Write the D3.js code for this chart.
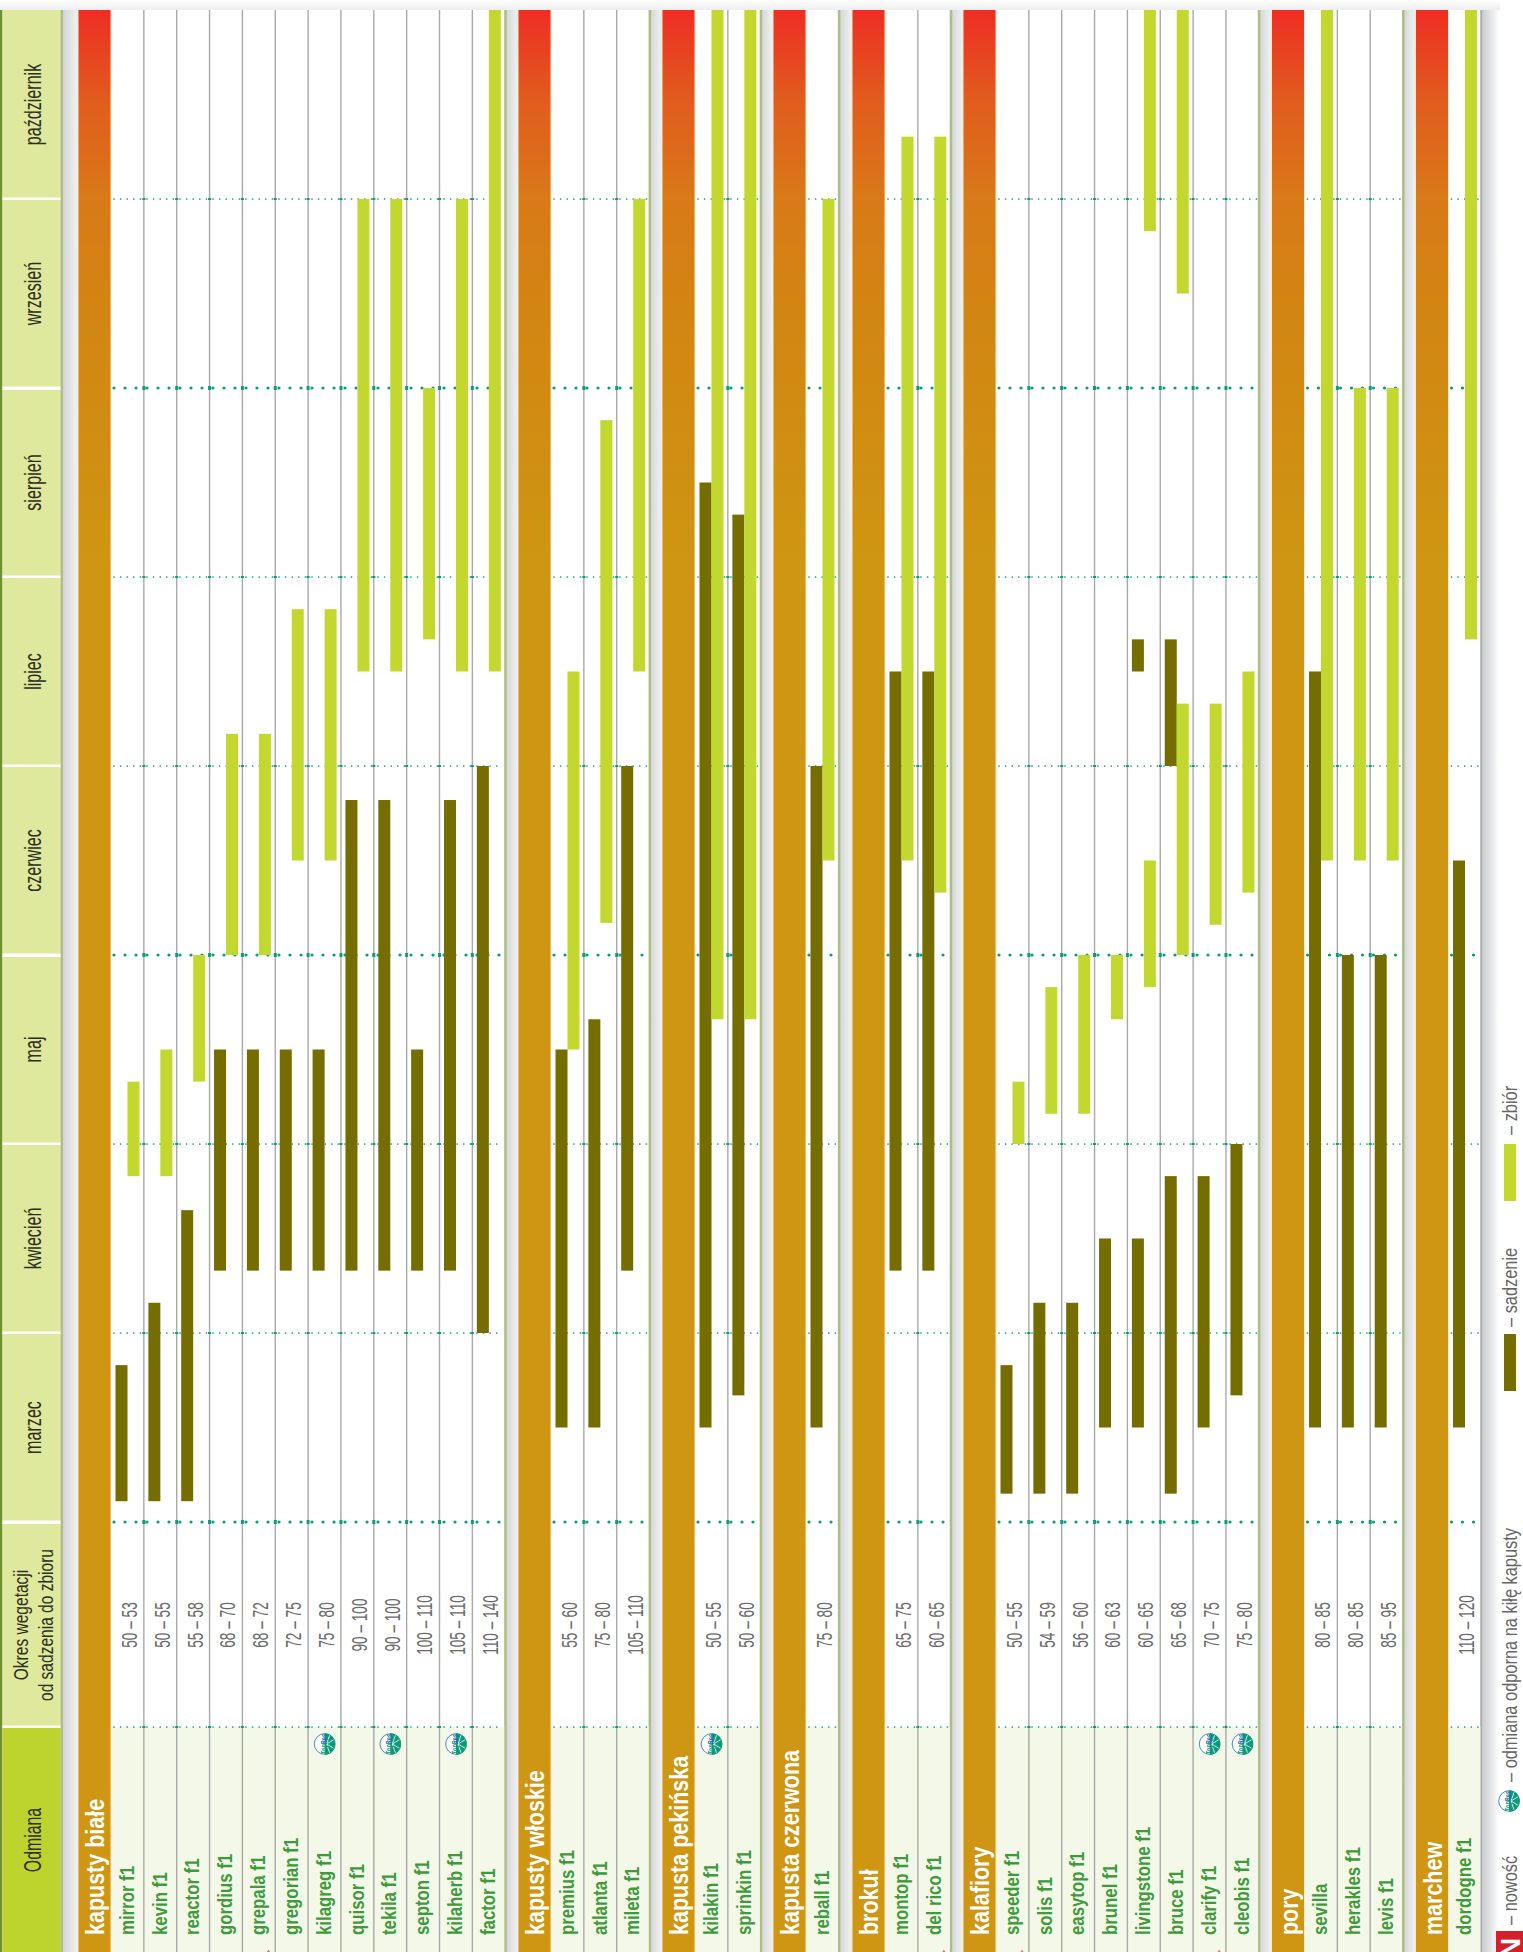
<!DOCTYPE html>
<html>
<head>
<meta charset="utf-8">
<script src="https://d3js.org/d3.v7.min.js"></script>
<style>
  html, body { margin: 0; padding: 0; background: #fff; }
  svg { display: block; }
  text { font-family: "Liberation Sans", Arial, sans-serif; }
</style>
</head>
<body>
<div id="grafico"></div>
<script>
const width = 1523;
const height = 1952;

const months = ["marzec", "kwiecień", "maj", "czerwiec", "lipiec", "sierpień", "wrzesień", "październik"];
const monthTicks = [3, 4, 5, 6, 7, 8, 9, 10, 11];
const boldDots = [3, 6, 9];

const sections = ["kapusty białe", "kapusty włoskie", "kapusta pekińska", "kapusta czerwona", "brokuł", "kalafiory", "pory", "marchew"];
const sectionLeft = [78.5, 518.5, 662.5, 773.5, 852.5, 963.5, 1272, 1416];
const sectionRows = [
  ["mirror f1", "kevin f1", "reactor f1", "gordius f1", "grepala f1", "gregorian f1", "kilagreg f1", "quisor f1", "tekila f1", "septon f1", "kilaherb f1", "factor f1"],
  ["premius f1", "atlanta f1", "mileta f1"],
  ["kilakin f1", "sprinkin f1"],
  ["reball f1"],
  ["montop f1", "del rico f1"],
  ["speeder f1", "solis f1", "easytop f1", "brunel f1", "livingstone f1", "bruce f1", "clarify f1", "cleobis f1"],
  ["sevilla", "herakles f1", "levis f1"],
  ["dordogne f1"]
];
const sectionRanges = [
  ["50 – 53", "50 – 55", "55 – 58", "68 – 70", "68 – 72", "72 – 75", "75 – 80", "90 – 100", "90 – 100", "100 – 110", "105 – 110", "110 – 140"],
  ["55 – 60", "75 – 80", "105 – 110"],
  ["50 – 55", "50 – 60"],
  ["75 – 80"],
  ["65 – 75", "60 – 65"],
  ["50 – 55", "54 – 59", "56 – 60", "60 – 63", "60 – 65", "65 – 68", "70 – 75", "75 – 80"],
  ["80 – 85", "80 – 85", "85 – 95"],
  ["110 – 120"]
];
// sadzenie / zbiór, month position: 3.5 = middle of March
const planting = {
  "mirror f1": [[3.11, 3.83]], "kevin f1": [[3.11, 4.16]], "reactor f1": [[3.11, 4.65]],
  "gordius f1": [[4.33, 5.5]], "grepala f1": [[4.33, 5.5]], "gregorian f1": [[4.33, 5.5]], "kilagreg f1": [[4.33, 5.5]],
  "quisor f1": [[4.33, 6.82]], "tekila f1": [[4.33, 6.82]], "septon f1": [[4.33, 5.5]], "kilaherb f1": [[4.33, 6.82]],
  "factor f1": [[4, 7]],
  "premius f1": [[3.5, 5.5]], "atlanta f1": [[3.5, 5.66]], "mileta f1": [[4.33, 7]],
  "kilakin f1": [[3.5, 8.5]], "sprinkin f1": [[3.67, 8.33]],
  "reball f1": [[3.5, 7]],
  "montop f1": [[4.33, 7.5]], "del rico f1": [[4.33, 7.5]],
  "speeder f1": [[3.15, 3.83]], "solis f1": [[3.15, 4.16]], "easytop f1": [[3.15, 4.16]], "brunel f1": [[3.5, 4.5]],
  "livingstone f1": [[3.5, 4.5], [7.5, 7.67]], "bruce f1": [[3.15, 4.83], [7, 7.67]],
  "clarify f1": [[3.5, 4.83]], "cleobis f1": [[3.67, 5]],
  "sevilla": [[3.5, 7.5]], "herakles f1": [[3.5, 6]], "levis f1": [[3.5, 6]],
  "dordogne f1": [[3.5, 6.5]]
};
const harvest = {
  "mirror f1": [[4.83, 5.33]], "kevin f1": [[4.83, 5.5]], "reactor f1": [[5.33, 6]],
  "gordius f1": [[6, 7.17]], "grepala f1": [[6, 7.17]], "gregorian f1": [[6.5, 7.83]], "kilagreg f1": [[6.5, 7.83]],
  "quisor f1": [[7.5, 10]], "tekila f1": [[7.5, 10]], "septon f1": [[7.67, 9]], "kilaherb f1": [[7.5, 10]],
  "factor f1": [[7.5, 11]],
  "premius f1": [[5.5, 7.5]], "atlanta f1": [[6.17, 8.83]], "mileta f1": [[7.5, 10]],
  "kilakin f1": [[5.66, 11]], "sprinkin f1": [[5.66, 11]],
  "reball f1": [[6.5, 10]],
  "montop f1": [[6.5, 10.33]], "del rico f1": [[6.33, 10.33]],
  "speeder f1": [[5, 5.33]], "solis f1": [[5.16, 5.83]], "easytop f1": [[5.16, 6]], "brunel f1": [[5.66, 6]],
  "livingstone f1": [[5.83, 6.5], [9.83, 11]], "bruce f1": [[6, 7.33], [9.5, 11]],
  "clarify f1": [[6.16, 7.33]], "cleobis f1": [[6.33, 7.5]],
  "sevilla": [[6.5, 11]], "herakles f1": [[6.5, 9]], "levis f1": [[6.5, 9]],
  "dordogne f1": [[7.67, 11]]
};
const topRes = ["kilagreg f1", "tekila f1", "kilaherb f1", "kilakin f1", "clarify f1", "cleobis f1"];
const newMarks = ["grepala f1", "del rico f1", "speeder f1", "clarify f1"];

const colPlant = "#756d00";
const colHarvest = "#c2d82e";
const rowW = 32.85;
const headW = 32;
const sepOkres = 1727;

const svg = d3.select("#grafico")
              .append("svg")
              .attr("width", width)
              .attr("height", height);

const yScale = d3.scaleLinear().domain([3, 11]).range([1522, 10]);

const defs = svg.append("defs");
const grad = defs.append("linearGradient").attr("id", "head")
                 .attr("gradientUnits", "userSpaceOnUse")
                 .attr("x1", 0).attr("x2", 0).attr("y1", 10).attr("y2", 1010);
[[0, "#ee2e24"], [0.05, "#e64720"], [0.09, "#e15c1e"], [0.15, "#dc6d1a"], [0.19, "#d87a18"], [0.29, "#d38413"], [0.55, "#ce9612"], [1, "#ce9612"]]
  .forEach(s => grad.append("stop").attr("offset", s[0]).attr("stop-color", s[1]));
const sh = defs.append("linearGradient").attr("id", "shade");
sh.append("stop").attr("offset", 0).attr("stop-color", "#d2d4d6");
sh.append("stop").attr("offset", 1).attr("stop-color", "#f2f3f3");
const shEnd = defs.append("linearGradient").attr("id", "shadeEnd");
shEnd.append("stop").attr("offset", 0).attr("stop-color", "#c6c8cb");
shEnd.append("stop").attr("offset", 1).attr("stop-color", "#ffffff");
const shTop = defs.append("linearGradient").attr("id", "shadeTop").attr("x1", 0).attr("x2", 0).attr("y1", 0).attr("y2", 1);
shTop.append("stop").attr("offset", 0).attr("stop-color", "#ffffff");
shTop.append("stop").attr("offset", 1).attr("stop-color", "#eeeeee");

// upright text of the page is turned by 90 degrees, sx narrows it along the baseline
function vText(g, x, y, str, size, fill, weight, anchor, sx) {
  return g.append("text")
          .attr("transform", `translate(${x}, ${y}) rotate(-90) scale(${sx}, 1)`)
          .attr("text-anchor", anchor)
          .attr("dominant-baseline", "central")
          .attr("font-size", size)
          .attr("font-weight", weight)
          .attr("fill", fill)
          .text(str);
}

function topResIcon(g, cx, cy) {
  const ic = g.append("g").attr("transform", `translate(${cx}, ${cy}) rotate(-90)`);
  ic.append("circle").attr("r", 10.3).attr("fill", "#fff").attr("stroke", "#1c6fa8").attr("stroke-width", 0.8);
  ic.append("path").attr("d", d3.arc()({ innerRadius: 0, outerRadius: 10.8, startAngle: Math.PI / 2, endAngle: Math.PI * 1.5 })).attr("fill", "#0b9a7c");
  [-60, -25, 25, 60].forEach(a => {
    ic.append("line").attr("x1", 0).attr("y1", 2).attr("x2", 10 * Math.sin(a * Math.PI / 180)).attr("y2", 10 * Math.cos(a * Math.PI / 180))
      .attr("stroke", "#fff").attr("stroke-width", 0.8);
  });
  const t = ic.append("text").attr("text-anchor", "middle").attr("y", 2).attr("font-size", 9).attr("font-weight", 700)
              .attr("textLength", 20).attr("lengthAdjust", "spacingAndGlyphs");
  t.append("tspan").attr("fill", "#0b9a7c").text("Top");
  t.append("tspan").attr("fill", "#1c6fa8").text("Res");
}

// top shadow
svg.append("rect").attr("x", 0).attr("y", 0).attr("width", 1500).attr("height", 10).attr("fill", "url(#shadeTop)");

// header column
svg.append("rect").attr("x", 0).attr("y", 10).attr("width", 2.5).attr("height", height - 10).attr("fill", "#6f8f30");
svg.append("rect").attr("x", 2.5).attr("y", 10).attr("width", 58).attr("height", height - 10).attr("fill", "#dee99d");
svg.append("rect").attr("x", 2.5).attr("y", sepOkres).attr("width", 58).attr("height", height - sepOkres).attr("fill", "#bdd42f");
svg.append("rect").attr("x", 60.5).attr("y", 10).attr("width", 2.5).attr("height", height - 10).attr("fill", "#aebd86");
svg.append("rect").attr("x", 63).attr("y", 10).attr("width", 15).attr("height", height - 10).attr("fill", "url(#shade)");

svg.selectAll(".sep")
   .data(monthTicks.slice(0, -1).concat([sepOkres]))
   .join("rect")
   .attr("class", "sep")
   .attr("x", 2.5)
   .attr("y", d => (d > 100 ? d : yScale(d)) - 1.5)
   .attr("width", 58)
   .attr("height", d => boldDots.includes(d) ? 3.5 : 2.5)
   .attr("fill", "#fff");

months.forEach((m, i) => {
  vText(svg, 32.5, yScale(3.5 + i), m, 23, "#2d2d20", 400, "middle", 0.7);
});
vText(svg, 33, 1840, "Odmiana", 23, "#2d2d20", 400, "middle", 0.69);
vText(svg, 20.5, 1625, "Okres wegetacji", 21, "#2d2d20", 400, "middle", 0.74);
vText(svg, 45.5, 1625, "od sadzenia do zbioru", 21, "#2d2d20", 400, "middle", 0.74);

// sections
sections.forEach((name, si) => {
  const left = sectionLeft[si];
  const rows = sectionRows[si];
  const x0 = left + headW + 0.5;
  const x1 = x0 + rows.length * rowW;
  const g = svg.append("g");

  // shadow to the right
  if (si < sections.length - 1) {
    g.append("rect").attr("x", x1).attr("y", 10).attr("width", sectionLeft[si + 1] - x1).attr("height", height - 10).attr("fill", "url(#shade)");
    g.append("rect").attr("x", x1 - 1).attr("y", 10).attr("width", 2.5).attr("height", height - 10).attr("fill", "#aebd86");
  } else {
    g.append("rect").attr("x", x1).attr("y", 10).attr("width", 18).attr("height", height - 10).attr("fill", "url(#shadeEnd)");
    g.append("rect").attr("x", x1 - 1).attr("y", 10).attr("width", 1.5).attr("height", height - 10).attr("fill", "#a0a0a0");
  }

  // name column
  g.append("rect").attr("x", x0).attr("y", sepOkres).attr("width", x1 - x0 - 1).attr("height", height - sepOkres).attr("fill", "#f4f8e8");

  // orange band
  g.append("rect").attr("x", left - 1).attr("y", 10).attr("width", headW + 2).attr("height", height - 10).attr("fill", "#fbe9c8");
  g.append("rect").attr("x", left).attr("y", 10).attr("width", headW).attr("height", height - 10).attr("fill", "url(#head)");
  vText(g, left + 17, 1935, name, 25, "#fff", 700, "start", 0.86);

  const xRow = d3.scaleBand().domain(rows).range([x0, x1]);

  // grid lines
  g.selectAll(".grid")
   .data(rows.slice(1))
   .join("line")
   .attr("x1", d => xRow(d)).attr("x2", d => xRow(d))
   .attr("y1", 10).attr("y2", height)
   .attr("stroke", "#a9a9a9").attr("stroke-width", 1.4);

  // dotted month lines
  monthTicks.slice(0, -1).concat([0]).forEach(t => {
    const y = t === 0 ? sepOkres : yScale(t);
    const bold = boldDots.includes(t);
    g.append("line")
     .attr("x1", x0 + 3).attr("x2", x1 - 2)
     .attr("y1", y).attr("y2", y)
     .attr("stroke", "#0a9c7b")
     .attr("stroke-width", bold ? 3.2 : 1.7)
     .attr("stroke-linecap", "round")
     .attr("stroke-dasharray", bold ? "0 11" : "0 6.6");
    g.selectAll(null)
     .data(rows.slice(1))
     .join("rect")
     .attr("x", d => xRow(d) - 1.5)
     .attr("y", y - (bold ? 2 : 1))
     .attr("width", 3)
     .attr("height", bold ? 4 : 2)
     .attr("fill", "#0a9c7b");
  });

  // bars
  rows.forEach((r, ri) => {
    const rx = xRow(r);
    g.selectAll(null)
     .data(planting[r])
     .join("rect")
     .attr("x", rx + 4.5)
     .attr("y", d => yScale(d[1]))
     .attr("width", 12)
     .attr("height", d => yScale(d[0]) - yScale(d[1]))
     .attr("fill", colPlant);
    g.selectAll(null)
     .data(harvest[r])
     .join("rect")
     .attr("x", rx + 16.5)
     .attr("y", d => yScale(d[1]))
     .attr("width", 12)
     .attr("height", d => yScale(d[0]) - yScale(d[1]))
     .attr("fill", colHarvest);

    // labels
    vText(g, rx + 18, 1625, sectionRanges[si][ri], 22, "#6a6a6a", 400, "middle", 0.62);
    vText(g, rx + 15.5, 1935, r, 21, "#3f9a3d", 700, "start", 0.8);
    if (topRes.includes(r)) topResIcon(g, rx + 16.5, 1744);
    if (newMarks.includes(r)) g.append("path").attr("d", `M${rx + 24.5},1952L${rx + 26},1949.5L${rx + 27.5},1952Z`).attr("fill", "#e8707a");
  });
});

// legend
const lg = svg.append("g");
lg.append("rect").attr("x", 1504).attr("y", 1334).attr("width", 12).attr("height", 57).attr("fill", colPlant);
lg.append("rect").attr("x", 1504).attr("y", 1144).attr("width", 12).attr("height", 57).attr("fill", colHarvest);
vText(lg, 1509.5, 1327, "– sadzenie", 21, "#666", 400, "start", 0.78);
vText(lg, 1509.5, 1135, "– zbiór", 21, "#666", 400, "start", 0.78);
vText(lg, 1509.5, 1782, "– odmiana odporna na kiłę kapusty", 21, "#666", 400, "start", 0.78);
vText(lg, 1509.5, 1925, "– nowość", 21, "#666", 400, "start", 0.78);
topResIcon(lg, 1509, 1801);
lg.append("rect").attr("x", 1496).attr("y", 1931).attr("width", 27).attr("height", 21).attr("fill", "#d4202c");
vText(lg, 1510, 1958, "N", 28, "#fff", 700, "start", 1);
</script>
</body>
</html>
